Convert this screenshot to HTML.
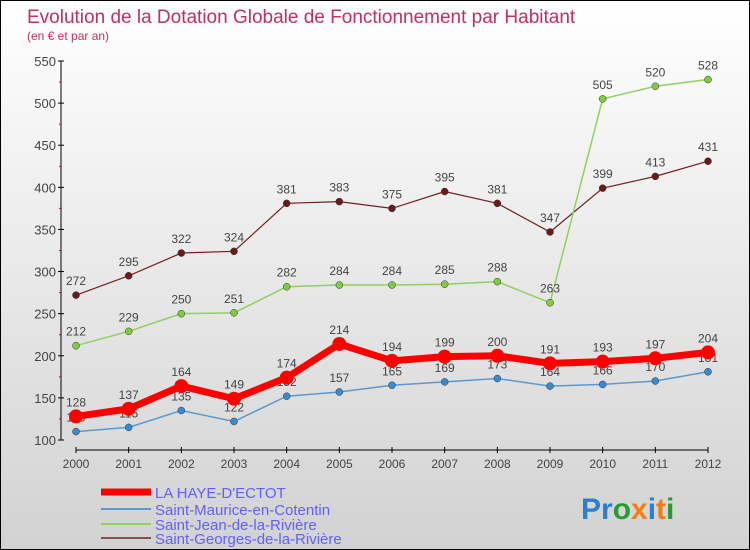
<!DOCTYPE html>
<html><head><meta charset="utf-8"><style>
html,body{margin:0;padding:0}
body{width:750px;height:550px;overflow:hidden;font-family:"Liberation Sans",sans-serif}
#wrap{position:relative;width:748px;height:548px;border:1px solid #000;background:linear-gradient(#ffffff,#d2d2d2)}
svg{position:absolute;left:0;top:0}
</style></head><body>
<div id="wrap">
<svg id="chart" width="748" height="548">
<text x="26" y="22" font-size="19" fill="#c03060">Evolution de la Dotation Globale de Fonctionnement par Habitant</text>
<text x="26" y="39" font-size="12" fill="#c03060">(en € et par an)</text>
<text x="580" y="518" font-size="30" font-weight="bold"><tspan fill="#2a7fd0">Pr</tspan><tspan fill="#2a9a30">o</tspan><tspan fill="#f08010">x</tspan><tspan fill="#2a7fd0">i</tspan><tspan fill="#f08010">t</tspan><tspan fill="#2a9a30">i</tspan></text>
</svg>
</div>
<script>
const years=[2000,2001,2002,2003,2004,2005,2006,2007,2008,2009,2010,2011,2012];
const haye=[128,137,164,149,174,214,194,199,200,191,193,197,204];
const maurice=[110,115,135,122,152,157,165,169,173,164,166,170,181];
const jean=[212,229,250,251,282,284,284,285,288,263,505,520,528];
const georges=[272,295,322,324,381,383,375,395,381,347,399,413,431];
const yTicks=[100,150,200,250,300,350,400,450,500,550];
const NS="http://www.w3.org/2000/svg";
const svg=document.getElementById('chart');
function X(i){return 75+i*(632/12);}
function Y(v){return 439-(v-100)*(379/450);}
function el(t,a,p){const e=document.createElementNS(NS,t);for(const k in a)e.setAttribute(k,a[k]);(p||svg).appendChild(e);return e;}
// axes
let ax=el('line',{x1:60,y1:Y(550),x2:60,y2:Y(100),stroke:'#000','stroke-width':1});

let bx=el('line',{x1:75,y1:449,x2:707,y2:449,stroke:'#000','stroke-width':1});

yTicks.forEach((v,i)=>{
 el('line',{x1:57,x2:63,y1:Y(v),y2:Y(v),stroke:'#000'});
 if(i<yTicks.length-1)el('line',{x1:58,x2:60,y1:Y(v+25),y2:Y(v+25),stroke:'#e00000'});
 const t=el('text',{x:55,y:Y(v)+5,'font-size':13,fill:'#444','text-anchor':'end'});t.textContent=v;
 
});
years.forEach((y,i)=>{
 el('line',{x1:X(i),x2:X(i),y1:446,y2:452,stroke:'#000'});
 const t=el('text',{x:X(i),y:467,'font-size':12,fill:'#444','text-anchor':'middle'});t.textContent=y;
 
});
function series(vals,color,w,r,name,fill){
 const g=el('g',{});
 el('polyline',{points:vals.map((v,i)=>X(i)+','+Y(v)).join(' '),fill:'none',stroke:color,'stroke-width':w},g);
 vals.forEach((v,i)=>{
  const c=el('circle',{cx:X(i),cy:Y(v),r:r,fill:fill,stroke:w>3?'none':'#333','stroke-width':0.5},g);
  
  const t=el('text',{x:X(i),y:Y(v)-10,'font-size':12,fill:'#444','text-anchor':'middle'},g);t.textContent=v;
 });
}
series(georges,'#702020',1.2,3.5,'series-saint-georges','#6a1a1a');
series(jean,'#90d060',1.5,3.5,'series-saint-jean','#80cc40');
series(maurice,'#5a9ad0',1.5,3.5,'series-saint-maurice','#3a8ad0');
series(haye,'#ff0000',7,7,'series-la-haye','#ff0000');
const leg=[['LA HAYE-D\'ECTOT','#ff0000',7],['Saint-Maurice-en-Cotentin','#5a9ad0',2],['Saint-Jean-de-la-Rivière','#90d060',2],['Saint-Georges-de-la-Rivière','#805050',2]];
const ly=[491,508,523,537];
leg.forEach((l,i)=>{
 const g=el('g',{});
 el('line',{x1:100,x2:150,y1:ly[i],y2:ly[i],stroke:l[1],'stroke-width':l[2]},g);
 const t=el('text',{x:154,y:ly[i]+6,'font-size':15,fill:'#6060ff'},g);t.textContent=l[0];
});
</script>
</body></html>
